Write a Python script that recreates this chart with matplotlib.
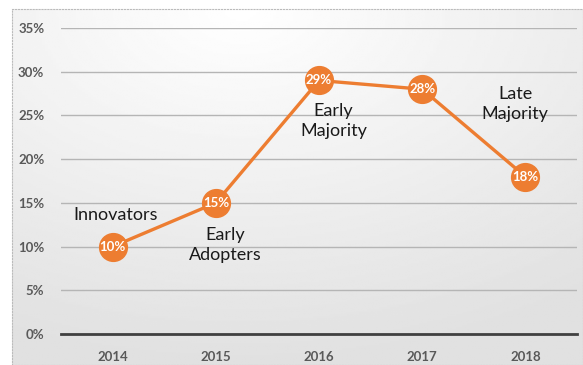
import matplotlib.pyplot as plt
import numpy as np

years = ['2014', '2015', '2016', '2017', '2018']
share = [10, 15, 29, 28, 18]
stages = ['Innovators', 'Early\nAdopters', 'Early\nMajority', '', 'Late\nMajority']
y_ticks = [0, 5, 10, 15, 20, 25, 30, 35]

orange = '#ED7D31'
W, H = 583, 365

fig = plt.figure(figsize=(W / 100, H / 100), dpi=100)
fig.patch.set_facecolor('white')

# soft white-to-grey backdrop inside the chart frame
bg = fig.add_axes([12 / W, 0, 1 - 12 / W, 1 - 9 / H])
gx, gy = np.meshgrid(np.linspace(0, 1, 200), np.linspace(0, 1, 200))
shade = 1.0 - 0.12 * np.clip(np.hypot(gx - 0.4, gy - 0.0) / 1.0, 0, 1)
bg.imshow(shade, cmap='gray', vmin=0, vmax=1, aspect='auto', extent=[0, 1, 0, 1])
bg.set_xticks([])
bg.set_yticks([])
for s in bg.spines.values():
    s.set_color('#bbbbbb')
    s.set_linestyle(':')
    s.set_linewidth(0.8)

ax = fig.add_axes([61 / W, (H - 334) / H, 516 / W, (334 - 28) / H])
ax.patch.set_alpha(0)
x = np.arange(len(years))
ax.set_xlim(-0.5, len(years) - 0.5)
ax.set_ylim(0, 35)
ax.set_yticks(y_ticks)
ax.set_yticklabels([f'{v}%' for v in y_ticks])
ax.set_xticks(x)
ax.set_xticklabels(years)
ax.grid(axis='y', color='#b5b5b5', linewidth=1)
ax.set_axisbelow(True)
for s in ['top', 'right', 'left']:
    ax.spines[s].set_visible(False)
ax.spines['bottom'].set_color('#404040')
ax.spines['bottom'].set_linewidth(2)
ax.tick_params(length=0, labelsize=9.5, colors='#595959', pad=12)
for lab in ax.get_xticklabels() + ax.get_yticklabels():
    lab.set_fontweight('bold')
    lab.set_fontfamily('Lato')

ax.plot(x, share, color=orange, linewidth=2.4, marker='o', markersize=20,
        markerfacecolor=orange, markeredgecolor=orange, clip_on=False)
for xi, v in zip(x, share):
    ax.text(xi, v, f'{v}%', ha='center', va='center', color='white',
            fontsize=9.5, fontweight='bold', family='Lato')

# adopter stage labels
offsets = [(0.03, 3.6), (0.09, -4.8), (0.14, -4.6), (0, 0), (-0.1, 8.3)]
for xi, v, name, (dx, dy) in zip(x, share, stages, offsets):
    if name:
        ax.text(xi + dx, v + dy, name, ha='center', va='center',
                fontsize=13, color='#1a1a1a', family='Lato', linespacing=1.3)

fig.savefig('out.png', dpi=100)
